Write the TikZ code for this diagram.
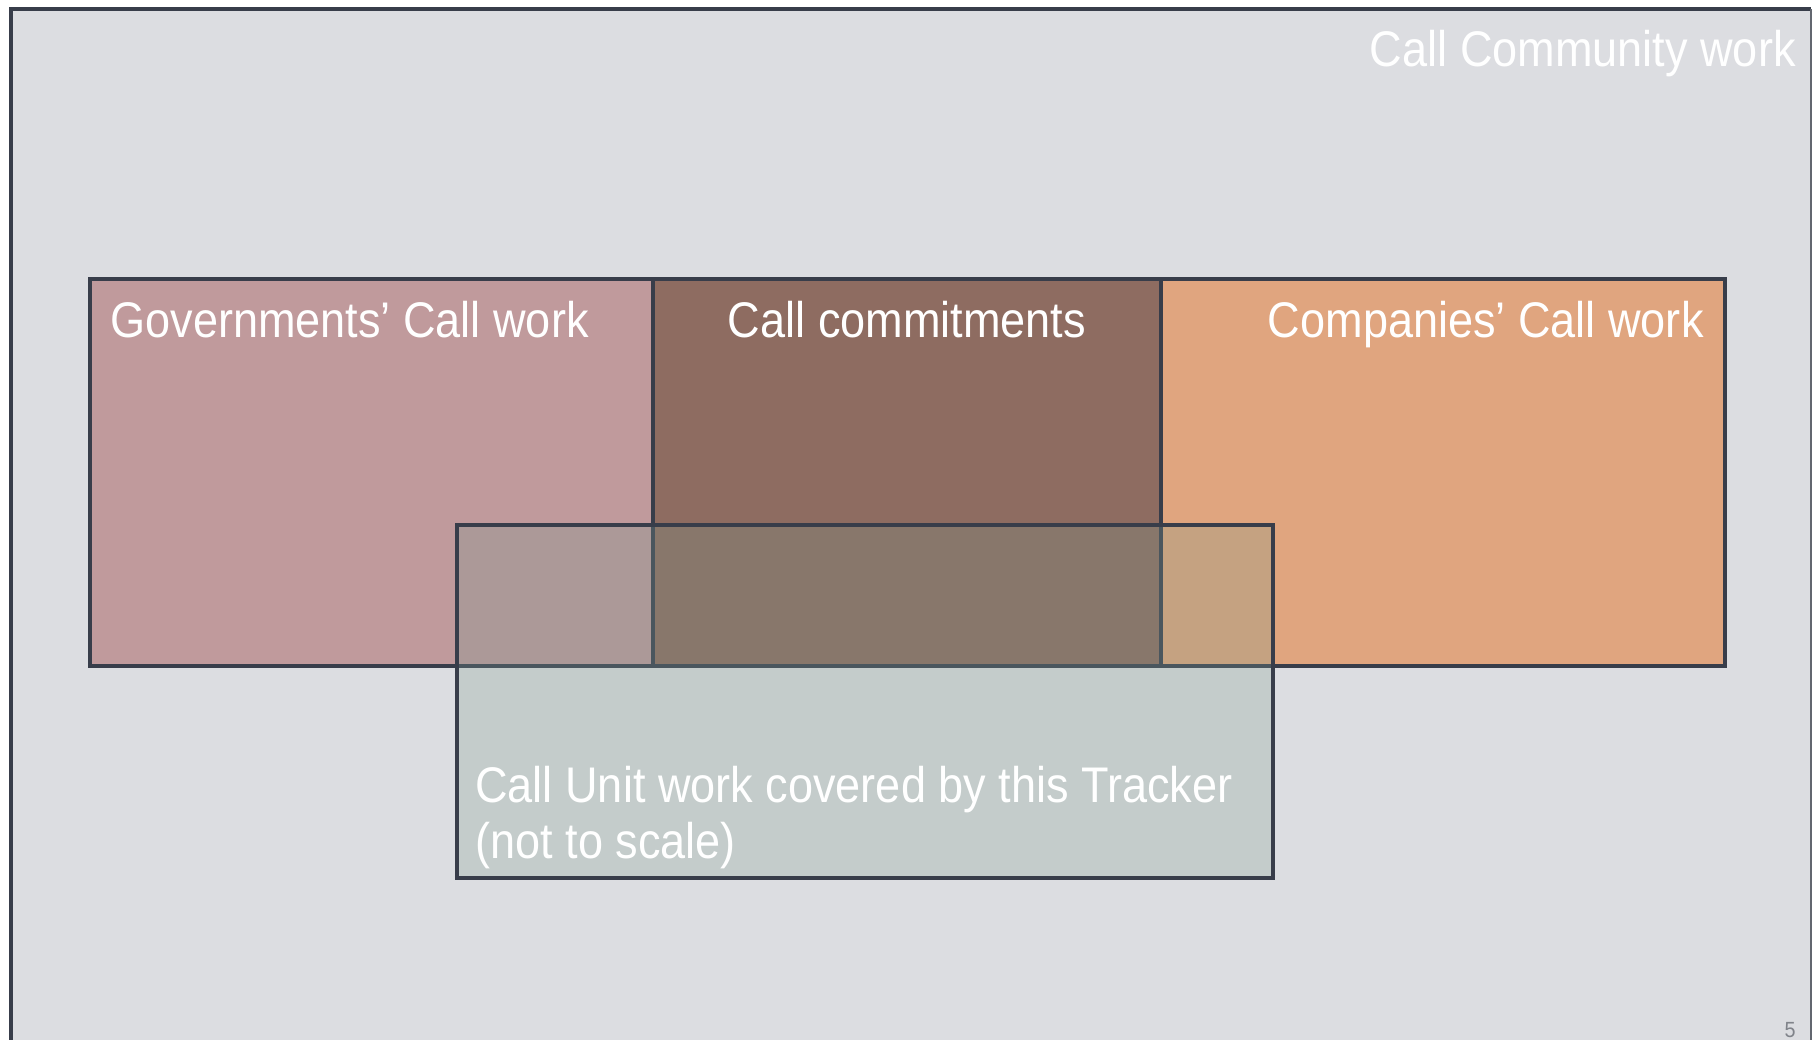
\documentclass[tikz,border=0pt]{standalone}
\usepackage{fontspec}
\setmainfont{Liberation Sans}[FakeStretch=0.9]
\usetikzlibrary{positioning}
\definecolor{slate}{RGB}{56,61,74}
\definecolor{slatelt}{RGB}{74,86,94}
\definecolor{canvas}{RGB}{220,221,225}
\definecolor{govfill}{RGB}{192,154,156}
\definecolor{comfill}{RGB}{142,108,97}
\definecolor{coyfill}{RGB}{224,165,127}
\definecolor{trkfill}{RGB}{196,204,203}
\definecolor{govtrk}{RGB}{172,153,152}
\definecolor{comtrk}{RGB}{136,119,107}
\definecolor{coytrk}{RGB}{197,162,129}
\definecolor{pagegray}{RGB}{128,131,138}

\begin{document}
\begin{tikzpicture}[x=0.02cm,y=-0.02cm,
  lbl/.style={font=\fontsize{28.5}{32}\selectfont, text=white, inner sep=0pt},
  edge/.style={draw=slate, line width=2.6pt, line join=miter}]
\useasboundingbox (0,0) rectangle (1814,1039);
\fill[white] (0,0) rectangle (1814,1039);
% slide frame
\fill[canvas] (11,9) rectangle (1811,1045);
\draw[slate, line width=2.7pt] (11,1045) -- (11,9) -- (1811,9);
\draw[pagegray!60!slate, line width=1.2pt] (1811,9) -- (1811,1045);

% upper blocks
\fill[govfill] (90,279) rectangle (653,666);
\fill[comfill] (653,279) rectangle (1161,666);
\fill[coyfill] (1161,279) rectangle (1725,666);
\foreach \xa/\xb in {90/653, 653/1161, 1161/1725}
  \draw[edge] (\xa,279) rectangle (\xb,666);

% tracker block, seen through
\fill[trkfill] (457,525) rectangle (1273,878);
\fill[govtrk] (457,525) rectangle (653,666);
\fill[comtrk] (653,525) rectangle (1161,666);
\fill[coytrk] (1161,525) rectangle (1273,666);
\draw[slatelt, line width=2.6pt] (653,525) -- (653,666) (1161,525) -- (1161,666)
  (457,666) -- (1273,666);
\draw[edge] (457,525) rectangle (1273,878);

% labels
\node[lbl, anchor=base east] (community) at (1796,66) {Call Community work};
\node[lbl, anchor=base west] (gov) at (110,337) {Governments’ Call work};
\node[lbl, anchor=base] (commit) at (907,337) {Call commitments};
\node[lbl, anchor=base east] (coy) at (1704,337) {Companies’ Call work};
\node[lbl, anchor=base west] (trk) at (475,802) {Call Unit work covered by this Tracker};
\node[lbl, anchor=base west] (trkb) at (475,858) {(not to scale)};
\node[font=\fontsize{12.5}{14}\selectfont, text=pagegray, inner sep=0pt, anchor=base east] (page) at (1796,1037) {5};
\end{tikzpicture}
\end{document}
